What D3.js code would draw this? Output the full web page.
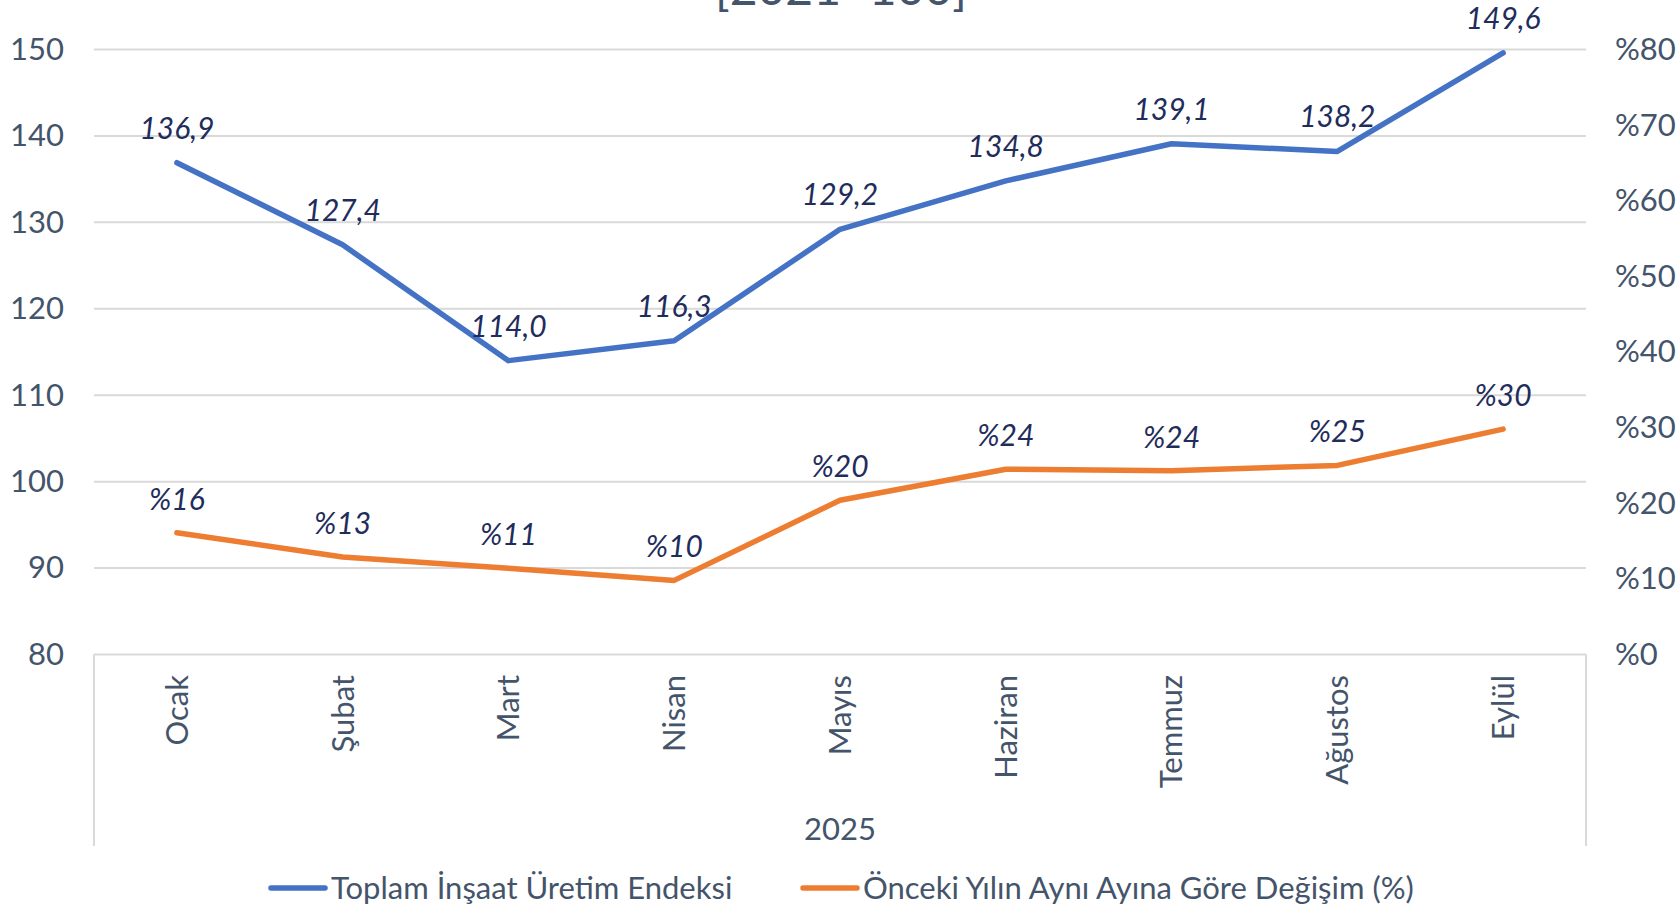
<!DOCTYPE html>
<html>
<head>
<meta charset="utf-8">
<script src="https://cdn.jsdelivr.net/npm/d3@7"></script>
<style>
  body { margin: 0; background: #fff; }
  svg { display: block; font-family: Lato, "Open Sans", sans-serif; }
</style>
</head>
<body>
<svg id="chart" width="1680" height="908"></svg>
<script>
// data
const months = ["Ocak", "Şubat", "Mart", "Nisan", "Mayıs", "Haziran", "Temmuz", "Ağustos", "Eylül"];
const indexValues = [136.9, 127.4, 114.0, 116.3, 129.2, 134.8, 139.1, 138.2, 149.6];
const changeValues = [16.1, 12.9, 11.4, 9.8, 20.4, 24.5, 24.3, 25.0, 29.8];
const changeLabels = ["%16", "%13", "%11", "%10", "%20", "%24", "%24", "%25", "%30"];
const leftTicks = [80, 90, 100, 110, 120, 130, 140, 150];
const rightTicks = [0, 10, 20, 30, 40, 50, 60, 70, 80];
const seriesNames = ["Toplam İnşaat Üretim Endeksi", "Önceki Yılın Aynı Ayına Göre Değişim (%)"];
const yearLabel = "2025";
const titleText = "[2021=100]";

const svg = d3.select("#chart");
const axisColor = "#44546a";
const labelColor = "#1f2d5c";
const blue = "#4472c4";
const orange = "#ed7d31";

const plotLeft = 94, plotRight = 1586, plotTop = 49.5, plotBottom = 654.5;

const x = d3.scaleBand().domain(months).range([plotLeft, plotRight]);
const yLeft = d3.scaleLinear().domain([80, 150]).range([plotBottom, plotTop]);
const yRight = d3.scaleLinear().domain([0, 80]).range([plotBottom, plotTop]);
const cx = d => x(d) + x.bandwidth() / 2;

// title, mostly cut off at the top (as in the source picture)
svg.append("text")
  .attr("x", 841).attr("y", 5)
  .attr("text-anchor", "middle")
  .attr("font-size", 48)
  .attr("fill", axisColor)
  .text(titleText);

// gridlines
svg.append("g")
  .selectAll("line")
  .data(leftTicks)
  .join("line")
  .attr("x1", plotLeft).attr("x2", plotRight)
  .attr("y1", d => yLeft(d)).attr("y2", d => yLeft(d))
  .attr("stroke", "#d9d9d9")
  .attr("stroke-width", 2);

// outer lines of the category axis
svg.append("g")
  .selectAll("line")
  .data([plotLeft, plotRight])
  .join("line")
  .attr("x1", d => d).attr("x2", d => d)
  .attr("y1", plotBottom).attr("y2", 846)
  .attr("stroke", "#d9d9d9")
  .attr("stroke-width", 2);

// left axis labels
const gLeft = svg.append("g")
  .attr("transform", `translate(${plotLeft},0)`)
  .call(d3.axisLeft(yLeft).tickValues(leftTicks).tickSize(0).tickPadding(30));
gLeft.select(".domain").remove();
gLeft.selectAll("text")
  .attr("font-size", 31).attr("fill", axisColor);
gLeft.attr("font-family", null).attr("font-size", null);

// right axis labels
const gRight = svg.append("g")
  .attr("transform", `translate(${plotRight},0)`)
  .call(d3.axisRight(yRight).tickValues(rightTicks).tickSize(0).tickPadding(29).tickFormat(d => "%" + d));
gRight.select(".domain").remove();
gRight.selectAll("text")
  .attr("font-size", 31).attr("fill", axisColor);
gRight.attr("font-family", null).attr("font-size", null);

// month labels, rotated
svg.append("g")
  .selectAll("text")
  .data(months)
  .join("text")
  .attr("transform", d => `translate(${cx(d)},675) rotate(-90)`)
  .attr("dy", "0.35em")
  .attr("text-anchor", "end")
  .attr("font-size", 31)
  .attr("fill", axisColor)
  .text(d => d);

svg.append("text")
  .attr("x", (plotLeft + plotRight) / 2).attr("y", 840)
  .attr("text-anchor", "middle")
  .attr("font-size", 31)
  .attr("fill", axisColor)
  .text(yearLabel);

// lines
const lineLeft = d3.line().x((d, i) => cx(months[i])).y(d => yLeft(d));
const lineRight = d3.line().x((d, i) => cx(months[i])).y(d => yRight(d));

svg.append("path")
  .attr("d", lineLeft(indexValues))
  .attr("fill", "none")
  .attr("stroke", blue)
  .attr("stroke-width", 5.5)
  .attr("stroke-linecap", "round")
  .attr("stroke-linejoin", "round");

svg.append("path")
  .attr("d", lineRight(changeValues))
  .attr("fill", "none")
  .attr("stroke", orange)
  .attr("stroke-width", 5.5)
  .attr("stroke-linecap", "round")
  .attr("stroke-linejoin", "round");

// data labels
const fmt = v => v.toFixed(1).replace(".", ",");
svg.append("g")
  .selectAll("text")
  .data(indexValues)
  .join("text")
  .attr("x", (d, i) => cx(months[i]))
  .attr("y", d => yLeft(d) - 24)
  .attr("text-anchor", "middle")
  .attr("font-size", 30)
  .attr("font-style", "italic")
  .attr("fill", labelColor)
  .text(d => fmt(d));

svg.append("g")
  .selectAll("text")
  .data(changeValues)
  .join("text")
  .attr("x", (d, i) => cx(months[i]))
  .attr("y", d => yRight(d) - 23)
  .attr("text-anchor", "middle")
  .attr("font-size", 30)
  .attr("font-style", "italic")
  .attr("fill", labelColor)
  .text((d, i) => changeLabels[i]);

// legend
const legendX = [271, 803];
const legendColors = [blue, orange];
const legend = svg.append("g")
  .selectAll("g")
  .data(seriesNames)
  .join("g")
  .attr("transform", (d, i) => `translate(${legendX[i]},888)`);
legend.append("line")
  .attr("x1", 0).attr("x2", 54)
  .attr("stroke", (d, i) => legendColors[i])
  .attr("stroke-width", 5.5)
  .attr("stroke-linecap", "round");
legend.append("text")
  .attr("x", 60)
  .attr("dy", "0.35em")
  .attr("font-size", 31)
  .attr("fill", axisColor)
  .text(d => d);
</script>
</body>
</html>
